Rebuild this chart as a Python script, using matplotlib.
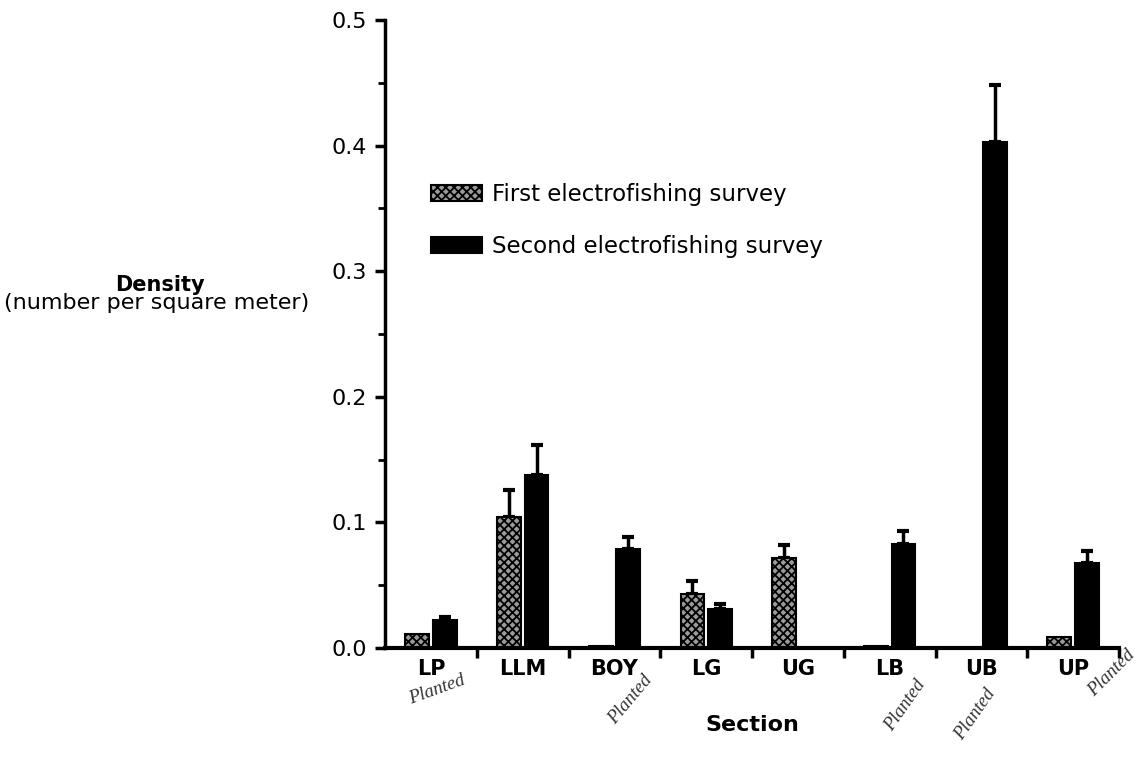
import numpy as np
import matplotlib
matplotlib.use("Agg")
import matplotlib.pyplot as plt
from matplotlib.ticker import MultipleLocator, FixedLocator, NullFormatter

# values
sections = ['LP', 'LLM', 'BOY', 'LG', 'UG', 'LB', 'UB', 'UP']
first = [0.011, 0.104, 0.002, 0.043, 0.0715, 0.002, 0.0, 0.009]
first_err = [0.0, 0.022, 0.0, 0.010, 0.0105, 0.0, 0.0, 0.0]
second = [0.022, 0.138, 0.079, 0.031, 0.0, 0.083, 0.403, 0.068]
second_err = [0.003, 0.024, 0.009, 0.004, 0.0, 0.010, 0.045, 0.009]
planted = ['LP', 'BOY', 'LB', 'UB', 'UP']

plt.rcParams['font.family'] = ['DejaVu Sans']
plt.rcParams['hatch.linewidth'] = 1.3

fig = plt.figure(figsize=(11.43, 7.63), dpi=100)
ax = fig.add_axes([0.337, 0.1507, 0.642, 0.823])

x = np.arange(len(sections)) + 0.5
w = 0.26
off = 0.15

b1 = ax.bar(x - off, first, w, facecolor='#9a9a9a', edgecolor='black',
            hatch='xxxx', linewidth=1.5, label='First electrofishing survey', zorder=2)
b2 = ax.bar(x + off, second, w, facecolor='black', edgecolor='black',
            linewidth=1.5, label='Second electrofishing survey', zorder=2)

# one-sided error bars, only where there is one
fe = np.array(first_err)
se = np.array(second_err)
m1 = fe > 0
m2 = se > 0
ax.errorbar((x - off)[m1], np.array(first)[m1], yerr=[np.zeros(m1.sum()), fe[m1]],
            fmt='none', ecolor='black', elinewidth=2.5, capsize=4, capthick=3, zorder=1)
ax.errorbar((x + off)[m2], np.array(second)[m2], yerr=[np.zeros(m2.sum()), se[m2]],
            fmt='none', ecolor='black', elinewidth=2.5, capsize=4, capthick=3, zorder=1)

ax.set_xlim(0, len(sections))
ax.set_ylim(0, 0.5)

for s in ['top', 'right']:
    ax.spines[s].set_visible(False)
ax.spines['left'].set_linewidth(2.5)
ax.spines['bottom'].set_linewidth(3)

ax.yaxis.set_major_locator(MultipleLocator(0.1))
ax.yaxis.set_minor_locator(MultipleLocator(0.05))
ax.set_yticklabels([f'{v:.1f}' for v in ax.get_yticks()])
ax.tick_params(axis='y', which='major', length=7, width=2.5, labelsize=16, pad=6)
ax.tick_params(axis='y', which='minor', length=5, width=2)

ax.set_xticks(x)
ax.set_xticklabels(sections, fontsize=15, fontweight='bold')
ax.tick_params(axis='x', which='major', length=0, pad=8)
ax.xaxis.set_minor_locator(FixedLocator(np.arange(1, len(sections) + 1)))
ax.xaxis.set_minor_formatter(NullFormatter())
ax.tick_params(axis='x', which='minor', length=7, width=2.5)

ax.set_xlabel('Section', fontsize=16, fontweight='bold', labelpad=26)

fig.text(0.14, 0.627, 'Density', fontsize=15, fontweight='bold', ha='center', va='center')
fig.text(0.137, 0.603, '(number per square meter)', fontsize=16, ha='center', va='center')

ax.legend(loc='upper left', bbox_to_anchor=(0.035, 0.773), frameon=False,
          fontsize=16.5, handlelength=2.2, handleheight=0.7, labelspacing=1.25,
          handletextpad=0.45)

# handwritten "Planted" notes under some sections
notes = {'LP': (0.06, -30, 20), 'BOY': (0.17, -37, 50), 'LB': (0.17, -41, 55),
         'UB': (-0.07, -48, 55), 'UP': (0.42, -18, 45)}
for s in planted:
    i = sections.index(s)
    dx, dy, r = notes[s]
    ax.annotate('Planted', xy=(x[i] + dx, 0), xycoords=('data', 'axes fraction'),
                xytext=(0, dy), textcoords='offset points', rotation=r,
                ha='center', va='center', fontsize=13.5, style='italic',
                family='Liberation Serif', color='#333333', annotation_clip=False)

fig.savefig('out.png', dpi=100)
